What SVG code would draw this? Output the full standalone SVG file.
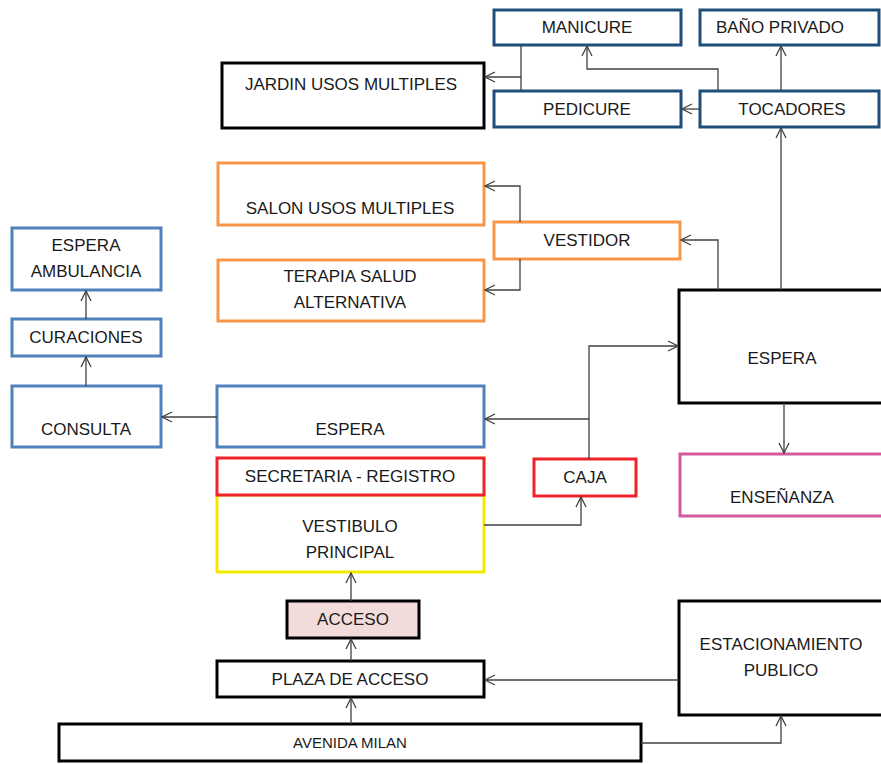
<svg xmlns="http://www.w3.org/2000/svg" width="881" height="764" viewBox="0 0 881 764">
<defs>
<marker id="ah" viewBox="0 0 12 12" refX="11" refY="6" markerWidth="12" markerHeight="12" markerUnits="userSpaceOnUse" orient="auto">
<path d="M1,1 L11,6 L1,11" fill="none" stroke="#404040" stroke-width="1.3"/>
</marker>
<style>
rect{fill:#fff;stroke-width:3}
.nv{stroke:#1F4E79}
.bl{stroke:#4F81BD}
.or{stroke:#F79646}
.rd{stroke:#EE2229}
.ye{stroke:#F5E800}
.pk{stroke:#D45A9F}
.bk{stroke:#000}
text{font-family:"Liberation Sans",Arial,sans-serif;font-size:17px;fill:#1a1a1a;text-anchor:middle}
.c path{fill:none;stroke:#404040;stroke-width:1.3;marker-end:url(#ah)}
.c line{stroke:#404040;stroke-width:1.3}
</style>
</defs>
<g id="manicure"><rect class="nv" x="494" y="10" width="187" height="35"/><text x="587" y="33">MANICURE</text></g>
<g id="bano"><rect class="nv" x="700" y="10" width="179" height="35"/><text x="780" y="33">BAÑO PRIVADO</text></g>
<g id="jardin"><rect class="bk" x="222" y="63" width="262" height="65"/><text x="351" y="90">JARDIN USOS MULTIPLES</text></g>
<g id="pedicure"><rect class="nv" x="494" y="91" width="187" height="36"/><text x="587" y="115">PEDICURE</text></g>
<g id="tocadores"><rect class="nv" x="700" y="91" width="179" height="36"/><text x="792" y="115">TOCADORES</text></g>
<g id="salon"><rect class="or" x="218" y="163" width="266" height="62"/><text x="350" y="214">SALON USOS MULTIPLES</text></g>
<g id="vestidor"><rect class="or" x="494" y="222" width="186" height="37"/><text x="587" y="246">VESTIDOR</text></g>
<g id="terapia"><rect class="or" x="218" y="260" width="266" height="61"/><text x="350" y="282">TERAPIA SALUD</text><text x="350" y="308">ALTERNATIVA</text></g>
<g id="ambulancia"><rect class="bl" x="12" y="228" width="149" height="62"/><text x="86" y="251">ESPERA</text><text x="86" y="277">AMBULANCIA</text></g>
<g id="curaciones"><rect class="bl" x="12" y="319" width="149" height="37"/><text x="86" y="343">CURACIONES</text></g>
<g id="consulta"><rect class="bl" x="12" y="386" width="149" height="61"/><text x="86" y="435">CONSULTA</text></g>
<g id="espera1"><rect class="bl" x="217" y="386" width="267" height="61"/><text x="350" y="435">ESPERA</text></g>
<g id="vestibulo"><rect class="ye" x="217" y="495" width="267" height="77"/><text x="350" y="532">VESTIBULO</text><text x="350" y="558">PRINCIPAL</text></g>
<g id="secretaria"><rect class="rd" x="217" y="458" width="267" height="37"/><text x="350" y="482">SECRETARIA - REGISTRO</text></g>
<g id="caja"><rect class="rd" x="534" y="459" width="102" height="37"/><text x="585" y="483">CAJA</text></g>
<g id="espera2"><rect class="bk" x="679" y="290" width="205" height="113"/><text x="782" y="364">ESPERA</text></g>
<g id="ensenanza"><rect class="pk" x="680" y="454" width="204" height="62"/><text x="782" y="503">ENSEÑANZA</text></g>
<g id="acceso"><rect class="bk" x="287" y="601" width="132" height="37" style="fill:#F2DCDB"/><text x="353" y="625">ACCESO</text></g>
<g id="plaza"><rect class="bk" x="217" y="661" width="267" height="36"/><text x="350" y="685">PLAZA DE ACCESO</text></g>
<g id="estacionamiento"><rect class="bk" x="679" y="601" width="205" height="114"/><text x="781" y="650">ESTACIONAMIENTO</text><text x="781" y="676">PUBLICO</text></g>
<g id="avenida"><rect class="bk" x="59" y="724" width="582" height="37"/><text x="350" y="748" style="font-size:15px">AVENIDA MILAN</text></g>
<g class="c" id="connectors">
<line x1="521" y1="45" x2="521" y2="91"/>
<path d="M521,77 H485"/>
<path d="M718,91 V69 H587 V46"/>
<path d="M781,91 V46"/>
<path d="M700,109 H682"/>
<path d="M781,290 V128"/>
<path d="M718,290 V240 H681"/>
<path d="M520,222 V186 H485"/>
<path d="M520,259 V290 H485"/>
<path d="M589,459 V346 H678"/>
<path d="M589,419 H485"/>
<path d="M217,417 H162"/>
<path d="M86,386 V357"/>
<path d="M86,319 V291"/>
<path d="M484,525 H581 V497"/>
<path d="M351,601 V573"/>
<path d="M351,661 V639"/>
<path d="M351,724 V698"/>
<path d="M679,680 H485"/>
<path d="M641,743 H781 V716"/>
<path d="M784,403 V453"/>
</g>
</svg>
